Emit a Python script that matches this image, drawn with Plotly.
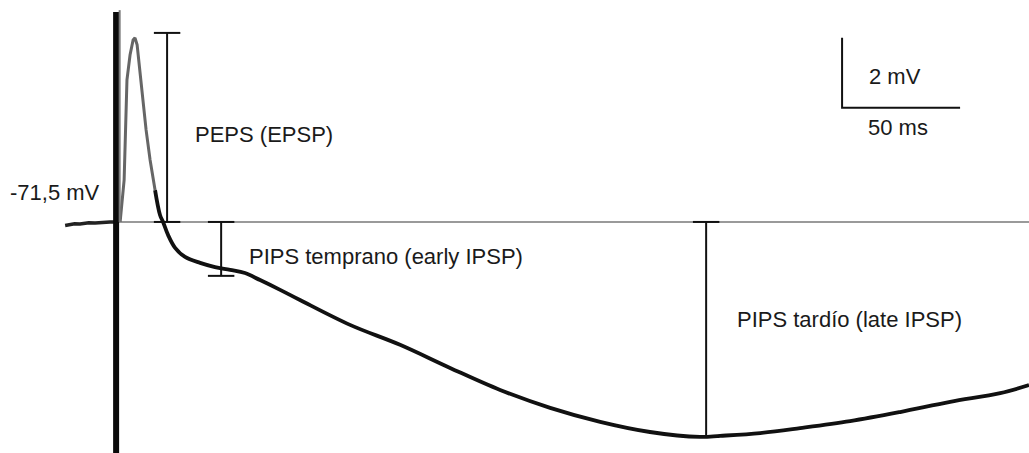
import plotly.graph_objects as go

# ---- data (time in ms relative to stimulus, membrane potential in mV) ----
baseline_mv = -71.5

pre_t = [-22.0, -18.0, -15.7, -12.0, -9.3, -5.0, -3.0, -1.0]
pre_v = [-71.60, -71.55, -71.56, -71.52, -71.53, -71.50, -71.50, -71.50]

epsp_t = [1.3, 3.0, 4.2, 5.5, 6.8, 7.6, 8.5, 9.8, 11.0, 12.3, 14.0, 16.1]
epsp_v = [-71.50, -70.30, -67.44, -66.73, -66.30, -66.24, -66.44, -67.30,
          -68.16, -68.87, -69.73, -70.59]

ipsp_t = [16.1, 18.2, 19.5, 21.6, 24.6, 28.8, 35.2, 41.5, 47.9, 54.2, 60.6,
          69.1, 77.5, 98.7, 119.9, 141.1, 162.3, 183.5, 204.7, 225.8, 247.0,
          255.5, 272.5, 289.4, 310.6, 331.8, 353.0, 374.2, 386.4]
ipsp_v = [-70.59, -71.30, -71.50, -71.87, -72.24, -72.50, -72.67, -72.79,
          -72.87, -72.96, -73.16, -73.44, -73.73, -74.44, -75.01, -75.67,
          -76.30, -76.81, -77.21, -77.50, -77.64, -77.61, -77.53, -77.39,
          -77.19, -76.93, -76.64, -76.39, -76.16]

artifact_t = -0.4
artifact_top = -65.5
artifact_bottom = -78.5

# measurement brackets: time, top value, bottom value
bracket_t = [21.2, 44.1, 249.6]
bracket_top = [-66.1, -71.5, -71.5]
bracket_bottom = [-71.5, -73.04, -77.64]
bracket_labels = ["PEPS (EPSP)", "PIPS temprano (early IPSP)", "PIPS tardío (late IPSP)"]
label_t = [32.2, 55.1, 261.9]
label_v = [-69.01, -72.49, -74.30]
cap_half = 5.6

# scale bar
scale_t0 = 307.2
scale_ms = 50
scale_v0 = -68.24
scale_mv = 2

x_range = [-49.6, 386.4]
y_range = [-78.1, -65.16]

fig = go.Figure()

# baseline reference line
fig.add_trace(go.Scatter(x=[artifact_t, x_range[1]], y=[baseline_mv, baseline_mv],
                         mode="lines", line=dict(color="#9a9a9a", width=2),
                         hoverinfo="skip"))

# brackets
for t, top, bot in zip(bracket_t, bracket_top, bracket_bottom):
    fig.add_trace(go.Scatter(
        x=[t, t, None, t - cap_half, t + cap_half, None, t - cap_half, t + cap_half],
        y=[top, bot, None, top, top, None, bot, bot],
        mode="lines", line=dict(color="#111111", width=2), hoverinfo="skip"))

# recording trace
fig.add_trace(go.Scatter(x=pre_t, y=pre_v, mode="lines",
                         line=dict(color="#222222", width=3.5), hoverinfo="skip"))
fig.add_trace(go.Scatter(x=ipsp_t, y=ipsp_v, mode="lines",
                         line=dict(color="#111111", width=3.8, shape="spline"),
                         hoverinfo="skip"))
fig.add_trace(go.Scatter(x=epsp_t, y=epsp_v, mode="lines",
                         line=dict(color="#666666", width=3), hoverinfo="skip"))

# stimulus artifact
fig.add_trace(go.Scatter(x=[artifact_t, artifact_t], y=[artifact_top, artifact_bottom],
                         mode="lines", line=dict(color="#0a0a0a", width=6),
                         hoverinfo="skip"))
fig.add_trace(go.Scatter(x=[artifact_t + 1.5, artifact_t + 1.5],
                         y=[artifact_top + 0.05, baseline_mv],
                         mode="lines", line=dict(color="#7a7a7a", width=2),
                         hoverinfo="skip"))

# scale bar
fig.add_trace(go.Scatter(x=[scale_t0, scale_t0, scale_t0 + scale_ms],
                         y=[scale_v0 + scale_mv, scale_v0, scale_v0],
                         mode="lines", line=dict(color="#111111", width=2),
                         hoverinfo="skip"))

font = dict(family="Liberation Sans, Arial, sans-serif", size=22, color="#1a1a1a")

for txt, t, v in zip(bracket_labels, label_t, label_v):
    fig.add_annotation(x=t, y=v, text=txt, showarrow=False, xanchor="left",
                       yanchor="middle", font=font)

fig.add_annotation(x=-46.2, y=-70.67, text="-71,5 mV", showarrow=False,
                   xanchor="left", yanchor="middle", font=font)
fig.add_annotation(x=scale_t0 + scale_ms * 0.45, y=scale_v0 + scale_mv * 0.45,
                   text="2 mV", showarrow=False, xanchor="center",
                   yanchor="middle", font=font)
fig.add_annotation(x=scale_t0 + scale_ms * 0.47, y=scale_v0 - 0.56,
                   text="50 ms", showarrow=False, xanchor="center",
                   yanchor="middle", font=font)

fig.update_layout(width=1029, height=453, margin=dict(l=0, r=0, t=0, b=0),
                  paper_bgcolor="white", plot_bgcolor="white", showlegend=False)
fig.update_xaxes(range=x_range, visible=False, fixedrange=True)
fig.update_yaxes(range=y_range, visible=False, fixedrange=True)

fig.write_html("out.html",
               config={"displayModeBar": False},
               post_script="document.body.style.margin='0px';"
                           "document.body.style.overflow='hidden';")
